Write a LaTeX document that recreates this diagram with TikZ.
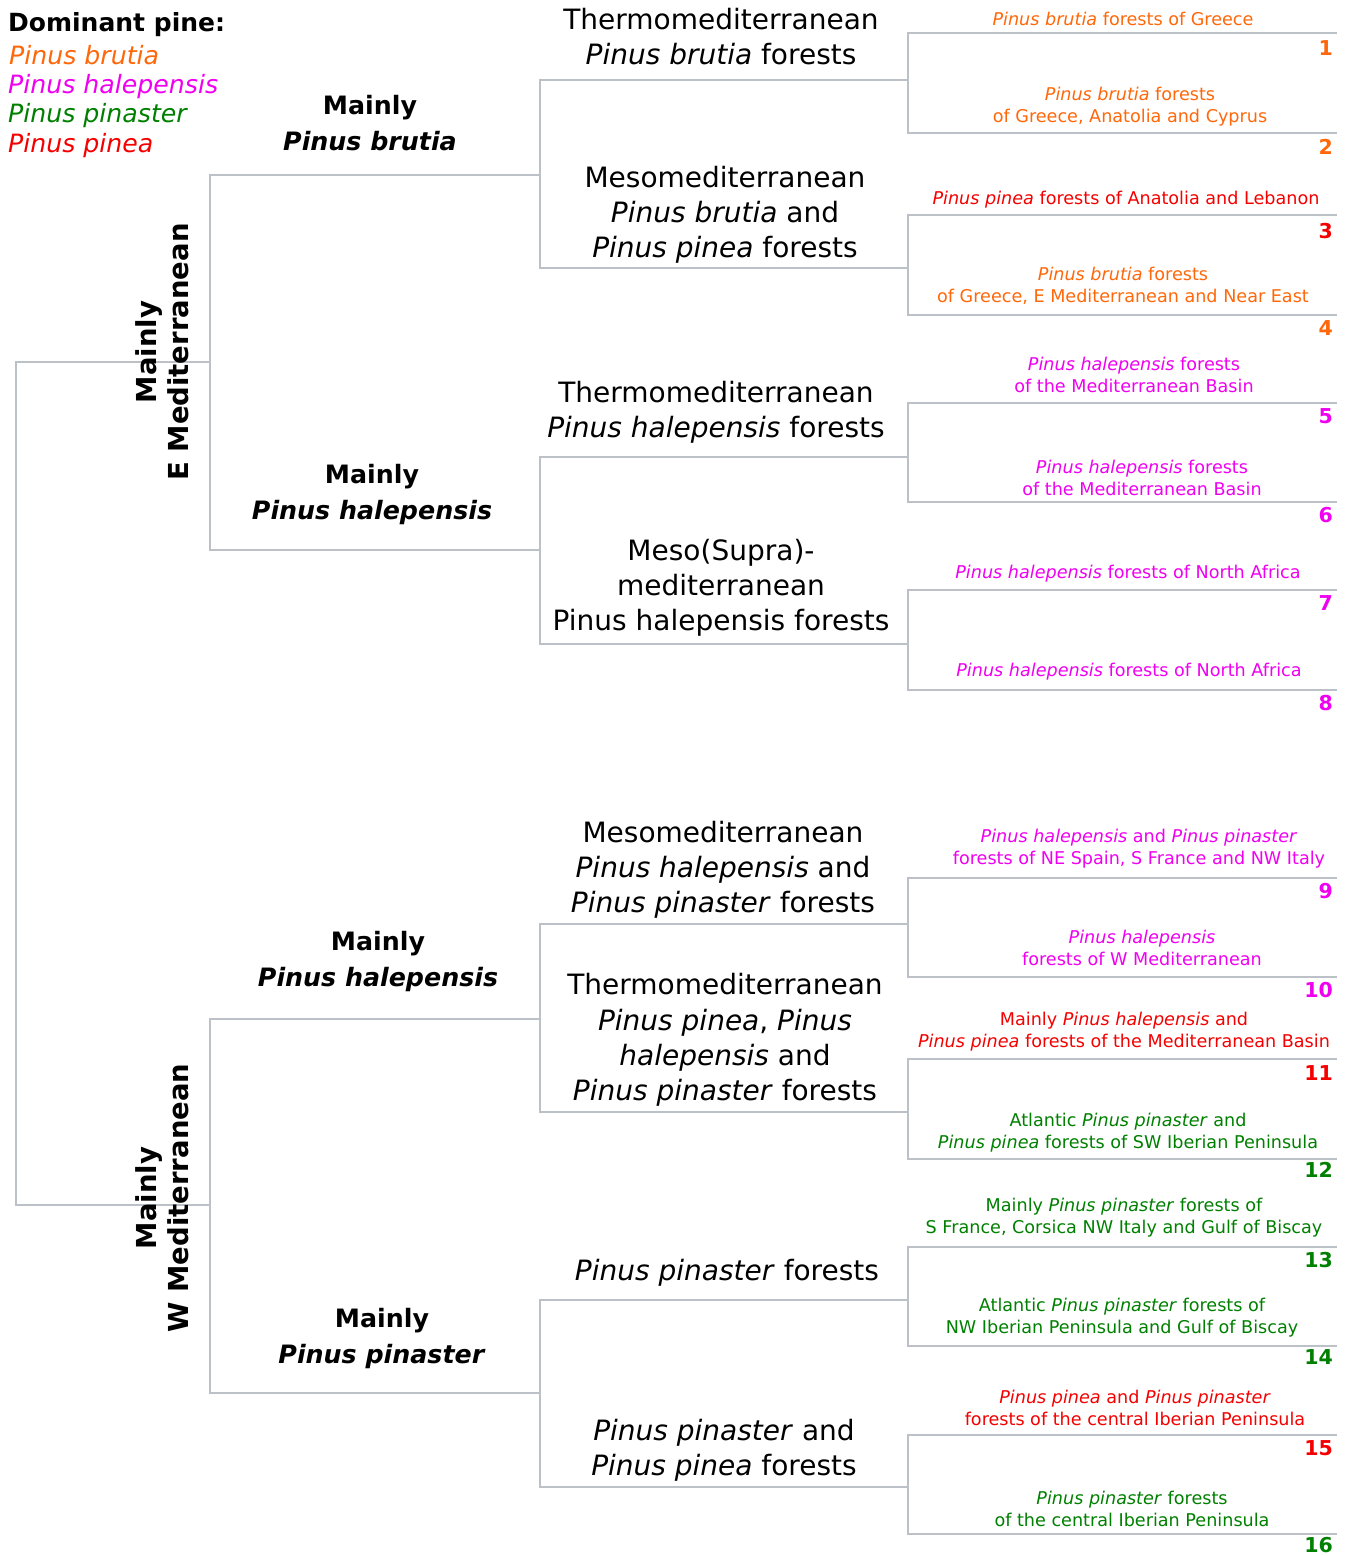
\documentclass[tikz,border=0pt]{standalone}
\usepackage{fontspec}
\setmainfont{DejaVu Sans}[ItalicFont={DejaVu Sans Oblique},BoldFont={DejaVu Sans Bold},BoldItalicFont={DejaVu Sans Bold Oblique}]
\definecolor{linegray}{RGB}{188,193,199}
\definecolor{porange}{RGB}{255,104,10}
\definecolor{pmag}{RGB}{240,0,240}
\definecolor{pgreen}{RGB}{0,128,0}
\definecolor{pred}{RGB}{245,0,0}
\begin{document}
\begin{tikzpicture}[x=1pt,y=-1pt,
  tree/.style={draw=linegray,line width=2.8pt,line join=miter},
  midtxt/.style={font=\fontsize{28}{35.2}\selectfont,align=center,inner sep=0pt},
  leaf/.style={font=\fontsize{17.6}{22}\selectfont,align=center,inner sep=0pt},
  num/.style={font=\bfseries\fontsize{20.5}{22}\selectfont,anchor=east,inner sep=0pt},
  grp/.style={font=\bfseries\fontsize{25.3}{36}\selectfont,align=center,inner sep=0pt},
  region/.style={font=\bfseries\fontsize{27.5}{32}\selectfont,align=center,inner sep=0pt,rotate=90},
  legend/.style={font=\itshape\fontsize{25.2}{29}\selectfont,anchor=base west,inner sep=0pt}]
\fill[white] (0,0) rectangle (1347,1556);
\useasboundingbox (0,0) rectangle (1347,1556);

% ---------- tree coordinates ----------
\coordinate (r1) at (16,362);  \coordinate (r2) at (16,1205);
\coordinate (e0) at (210,362); \coordinate (w0) at (210,1205);
\coordinate (e1) at (210,175); \coordinate (e2) at (210,550);
\coordinate (bA) at (540,175); \coordinate (hA) at (540,550);
\coordinate (w1) at (210,1019); \coordinate (w2) at (210,1393);
\coordinate (hW) at (540,1019); \coordinate (pW) at (540,1393);
\foreach \n/\t/\b in {m1/80/268, m2/457/644, m3/924/1112, m4/1300/1487}{
  \coordinate (\n t) at (540,\t); \coordinate (\n b) at (540,\b);
  \coordinate (\n tr) at (908,\t); \coordinate (\n br) at (908,\b);
}
\foreach \n/\t/\b in {k1/33/133, k2/215/315, k3/403/502, k4/590/690, k5/878/977, k6/1059/1159, k7/1247/1346, k8/1435/1534}{
  \coordinate (\n t) at (908,\t); \coordinate (\n b) at (908,\b);
  \coordinate (\n tr) at (1337,\t); \coordinate (\n br) at (1337,\b);
}

% ---------- tree lines ----------
\draw[tree] (e0) -- (r1) -- (r2) -- (w0);
\draw[tree] (bA) -- (e1) -- (e2) -- (hA);
\draw[tree] (hW) -- (w1) -- (w2) -- (pW);
\foreach \n in {m1,m2,m3,m4}{
  \draw[tree] (\n tr) -- (\n t) -- (\n b) -- (\n br);
}
\foreach \n in {k1,k2,k3,k4,k5,k6,k7,k8}{
  \draw[tree] (\n tr) -- (\n t) -- (\n b) -- (\n br);
}

% ---------- legend ----------
\node[anchor=base west,inner sep=0pt,font=\bfseries\fontsize{25}{29}\selectfont] (legtitle) at (8,31) {Dominant pine:};
\node[legend,text=porange] (leg1) at (9,64) {Pinus brutia};
\node[legend,text=pmag] (leg2) at (8,93) {Pinus halepensis};
\node[legend,text=pgreen] (leg3) at (8,122.5) {Pinus pinaster};
\node[legend,text=pred] (leg4) at (8,152) {Pinus pinea};

% ---------- region labels ----------
\node[region] (regE) at (162,352) {Mainly\\E Mediterranean};
\node[region] (regW) at (162,1198) {Mainly\\W Mediterranean};

% ---------- group labels ----------
\node[grp] (gB) at (370,123) {Mainly\\\textit{Pinus brutia}};
\node[grp] (gHE) at (372,494.5) {Mainly\\\textit{Pinus halepensis}};
\node[grp] (gHW) at (378,961.5) {Mainly\\\textit{Pinus halepensis}};
\node[grp] (gP) at (382,1338.5) {Mainly\\\textit{Pinus pinaster}};

% ---------- middle labels ----------
\node[midtxt] (t1) at (721,36.5) {Thermomediterranean\\\textit{Pinus brutia} forests};
\node[midtxt] (t2) at (725,215) {Mesomediterranean\\\textit{Pinus brutia} and\\\textit{Pinus pinea} forests};
\node[midtxt] (t3) at (716,412.5) {Thermomediterranean\\\textit{Pinus halepensis} forests};
\node[midtxt] (t4) at (721,588) {Meso(Supra)-\\mediterranean\\Pinus halepensis forests};
\node[midtxt] (t5) at (723,870) {Mesomediterranean\\\textit{Pinus halepensis} and\\\textit{Pinus pinaster} forests};
\node[midtxt] (t6) at (725,1040) {Thermomediterranean\\\textit{Pinus pinea}, \textit{Pinus}\\\textit{halepensis} and\\\textit{Pinus pinaster} forests};
\node[midtxt] (t7) at (727,1273) {\textit{Pinus pinaster} forests};
\node[midtxt] (t8) at (724,1450) {\textit{Pinus pinaster} and\\\textit{Pinus pinea} forests};

% ---------- leaf labels ----------
\node[leaf,text=porange] (l1) at (1123,19) {\textit{Pinus brutia} forests of Greece};
\node[leaf,text=porange] (l2) at (1130,107) {\textit{Pinus brutia} forests\\of Greece, Anatolia and Cyprus};
\node[leaf,text=pred] (l3) at (1126,200) {\textit{Pinus pinea} forests of Anatolia and Lebanon};
\node[leaf,text=porange] (l4) at (1123,286) {\textit{Pinus brutia} forests\\of Greece, E Mediterranean and Near East};
\node[leaf,text=pmag] (l5) at (1134,374.5) {\textit{Pinus halepensis} forests\\of the Mediterranean Basin};
\node[leaf,text=pmag] (l6) at (1142,478) {\textit{Pinus halepensis} forests\\of the Mediterranean Basin};
\node[leaf,text=pmag] (l7) at (1128,574) {\textit{Pinus halepensis} forests of North Africa};
\node[leaf,text=pmag] (l8) at (1129,672) {\textit{Pinus halepensis} forests of North Africa};
\node[leaf,text=pmag] (l9) at (1139,849) {\textit{Pinus halepensis} and \textit{Pinus pinaster}\\forests of NE Spain, S France and NW Italy};
\node[leaf,text=pmag] (l10) at (1142,948) {\textit{Pinus halepensis}\\forests of W Mediterranean};
\node[leaf,text=pred] (l11) at (1124,1032) {Mainly \textit{Pinus halepensis} and\\\textit{Pinus pinea} forests of the Mediterranean Basin};
\node[leaf,text=pgreen] (l12) at (1128,1133) {Atlantic \textit{Pinus pinaster} and\\\textit{Pinus pinea} forests of SW Iberian Peninsula};
\node[leaf,text=pgreen] (l13) at (1124,1218) {Mainly \textit{Pinus pinaster} forests of\\S France, Corsica NW Italy and Gulf of Biscay};
\node[leaf,text=pgreen] (l14) at (1122,1318) {Atlantic \textit{Pinus pinaster} forests of\\NW Iberian Peninsula and Gulf of Biscay};
\node[leaf,text=pred] (l15) at (1135,1408) {\textit{Pinus pinea} and \textit{Pinus pinaster}\\forests of the central Iberian Peninsula};
\node[leaf,text=pgreen] (l16) at (1132,1509) {\textit{Pinus pinaster} forests\\of the central Iberian Peninsula};

% ---------- numbers ----------
\foreach \k/\y/\c in {1/48/porange, 2/147/porange, 3/231/pred, 4/328/porange,
  5/416/pmag, 6/515/pmag, 7/603/pmag, 8/703/pmag, 9/891/pmag, 10/990/pmag,
  11/1073/pred, 12/1170/pgreen, 13/1260/pgreen, 14/1357/pgreen, 15/1448/pred, 16/1545/pgreen}{
  \node[num,text=\c] (n\k) at (1333,\y) {\k};
}
\end{tikzpicture}
\end{document}
